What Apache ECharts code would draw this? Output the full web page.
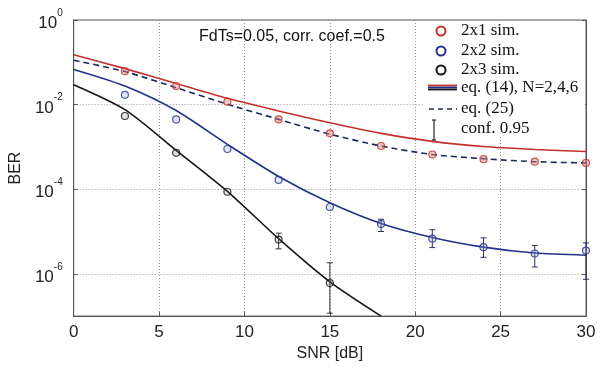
<!DOCTYPE html>
<html>
<head>
<meta charset="utf-8">
<script src="https://cdn.jsdelivr.net/npm/echarts@6/dist/echarts.min.js"></script>
<style>
  html, body { margin: 0; padding: 0; background: #fff; }
  #chart { width: 602px; height: 367px; }
</style>
</head>
<body>
<div id="chart"></div>
<script>
// SNR grid of the analytic curves and of the simulations
const snr = [0, 3, 6, 9, 12, 15, 18, 21, 24, 27, 30];
const simSnr = [3, 6, 9, 12, 15, 18, 21, 24, 27, 30];
const simSnr2x3 = [3, 6, 9, 12, 15];
const snrN6 = [0, 3, 6, 9, 12, 15, 18];

// eq. (14), N = 2, 4, 6
const eq14N2 = [0.151, 0.0708, 0.0316, 0.0141, 0.00708, 0.00372, 0.00209, 0.00135, 0.00102, 0.000871, 0.000776];
const eq14N4 = [0.0676, 0.0275, 0.00724, 0.00115, 0.000200, 4.79e-5, 1.55e-5, 7.24e-6, 4.27e-6, 3.09e-6, 2.75e-6];
const eq14N6 = [0.0295, 0.00759, 0.000832, 8.91e-5, 6.76e-6, 6.46e-7, 1.0e-7];
// eq. (25)
const eq25N2 = [0.112, 0.0603, 0.0251, 0.0102, 0.00447, 0.00200, 0.00105, 0.000661, 0.000525, 0.000447, 0.000417];

// simulations
const sim2x1 = [0.0617, 0.0275, 0.0117, 0.00447, 0.00209, 0.00105, 0.000661, 0.000513, 0.000447, 0.000417];
const sim2x2 = [0.0170, 0.00447, 0.000891, 0.000166, 3.80e-5, 1.51e-5, 6.76e-6, 4.27e-6, 3.02e-6, 3.55e-6];
const sim2x3 = [0.00537, 0.000724, 8.71e-5, 6.46e-6, 6.03e-7];

// 95% confidence intervals
const confSnr2x2 = [18, 21, 24, 27, 30];
const conf2x2Low = [1.0e-5, 4.17e-6, 2.45e-6, 1.45e-6, 7.41e-7];
const conf2x2High = [1.95e-5, 1.10e-5, 7.08e-6, 4.68e-6, 5.37e-6];
const confSnr2x3 = [12, 15];
const conf2x3Low = [3.89e-6, 1.17e-7];
const conf2x3High = [9.12e-6, 1.82e-6];

const RED = '#c4302b';
const BLUE = '#24318c';
const BLACK = '#151515';
const NAVY = '#1c2a5e';

const pair = (xs, ys) => xs.map((x, i) => [x, ys[i]]);
const triple = (xs, lo, hi) => xs.map((x, i) => [x, lo[i], hi[i]]);

const chart = echarts.init(document.getElementById('chart'));

function errorBars(color) {
  return function (params, api) {
    const top = api.coord([api.value(0), api.value(2)]);
    const bot = api.coord([api.value(0), api.value(1)]);
    const w = 3;
    const st = { stroke: color, lineWidth: 1 };
    return {
      type: 'group',
      children: [
        { type: 'line', shape: { x1: top[0], y1: top[1], x2: bot[0], y2: bot[1] }, style: st },
        { type: 'line', shape: { x1: top[0] - w, y1: top[1], x2: top[0] + w, y2: top[1] }, style: st },
        { type: 'line', shape: { x1: bot[0] - w, y1: bot[1], x2: bot[0] + w, y2: bot[1] }, style: st }
      ]
    };
  };
}

function simSeries(name, data, color, fill) {
  return {
    name, type: 'scatter', data,
    symbol: 'circle', symbolSize: 7, z: 5,
    itemStyle: { color: fill, borderColor: color, borderWidth: 1.2 }
  };
}

function curve(name, data, color, dashed) {
  return {
    name, type: 'line', data, smooth: 0.25, showSymbol: false,
    lineStyle: { color, width: 1.6, type: dashed ? [6, 4] : 'solid' }, z: 3
  };
}

const legendFont = '17px "Liberation Serif", serif';
const legendX = 461;
const legendRows = [31, 51, 70, 88, 109, 129];

const option = {
  backgroundColor: '#fff',
  animation: false,
  grid: {
    left: 69, right: 16, top: 20, bottom: 47,
    show: true, borderColor: '#555', borderWidth: 1
  },
  xAxis: {
    type: 'value', min: 0, max: 30, interval: 5,
    name: 'SNR [dB]', nameLocation: 'middle', nameGap: 24,
    nameTextStyle: { fontFamily: 'Liberation Sans', fontSize: 16, color: '#222' },
    axisLine: { lineStyle: { color: '#555' } },
    axisTick: { inside: true, length: 4, lineStyle: { color: '#555' } },
    axisLabel: { fontFamily: 'Liberation Sans', fontSize: 17, color: '#222', margin: 8 },
    splitLine: { lineStyle: { color: '#999', type: [1, 2] } }
  },
  yAxis: [{
    type: 'log', logBase: 100, min: 1e-7, max: 1,
    name: 'BER', nameLocation: 'middle', nameGap: 31, nameRotate: 90,
    nameTextStyle: { fontFamily: 'Liberation Sans', fontSize: 16, color: '#222' },
    axisLine: { lineStyle: { color: '#555' } },
    axisTick: { inside: true, length: 4, lineStyle: { color: '#555' } },
    axisLabel: {
      margin: 11, showMinLabel: false,
      formatter: v => '{b|10}{e|' + Math.round(Math.log10(v)) + '}',
      rich: {
        b: { fontFamily: 'Liberation Sans', fontSize: 17, color: '#222', lineHeight: 24, verticalAlign: 'bottom' },
        e: { fontFamily: 'Liberation Sans', fontSize: 10, color: '#222', lineHeight: 12, verticalAlign: 'top' }
      }
    },
    splitLine: { lineStyle: { color: '#999', type: [1, 2] } }
  }, {
    type: 'log', logBase: 100, min: 1e-7, max: 1, position: 'right',
    axisLine: { lineStyle: { color: '#555' } },
    axisTick: { inside: true, length: 4, lineStyle: { color: '#555' } },
    axisLabel: { show: false },
    splitLine: { show: false }
  }],
  series: [
    curve('eq14 N=2', pair(snr, eq14N2), RED, false),
    curve('eq14 N=4', pair(snr, eq14N4), BLUE, false),
    curve('eq14 N=6', pair(snrN6, eq14N6), BLACK, false),
    curve('eq25 N=2', pair(snr, eq25N2), NAVY, true),
    {
      type: 'custom', name: 'conf 2x2', renderItem: errorBars('#2a3060'),
      data: triple(confSnr2x2, conf2x2Low, conf2x2High), encode: { x: 0, y: [1, 2] }, z: 4
    },
    {
      type: 'custom', name: 'conf 2x3', renderItem: errorBars('#333'),
      data: triple(confSnr2x3, conf2x3Low, conf2x3High), encode: { x: 0, y: [1, 2] }, z: 4
    },
    simSeries('2x1 sim.', pair(simSnr, sim2x1), RED, 'rgba(214,130,130,0.55)'),
    simSeries('2x2 sim.', pair(simSnr, sim2x2), BLUE, 'rgba(150,160,215,0.35)'),
    simSeries('2x3 sim.', pair(simSnr2x3, sim2x3), BLACK, 'rgba(120,120,120,0.25)')
  ],
  graphic: [
    {
      type: 'text', left: 199, top: 29, z: 20,
      style: { text: 'FdTs=0.05, corr. coef.=0.5', font: '16px "Liberation Sans", sans-serif', fill: '#111' }
    },
    // legend box (no border, hides the grid behind it)
    { type: 'rect', shape: { x: 424, y: 21, width: 161, height: 116 }, style: { fill: '#fff' }, z: 15 },
    { type: 'circle', shape: { cx: 441, cy: legendRows[0], r: 4.5 }, style: { fill: 'none', stroke: RED, lineWidth: 2 }, z: 20 },
    { type: 'circle', shape: { cx: 441, cy: legendRows[1], r: 4.5 }, style: { fill: 'none', stroke: BLUE, lineWidth: 2 }, z: 20 },
    { type: 'circle', shape: { cx: 441, cy: legendRows[2], r: 4.5 }, style: { fill: 'none', stroke: BLACK, lineWidth: 2 }, z: 20 },
    { type: 'line', shape: { x1: 428, y1: legendRows[3] - 2.5, x2: 457, y2: legendRows[3] - 2.5 }, style: { stroke: RED, lineWidth: 1.8 }, z: 20 },
    { type: 'line', shape: { x1: 428, y1: legendRows[3] - 0.5, x2: 457, y2: legendRows[3] - 0.5 }, style: { stroke: BLUE, lineWidth: 1.8 }, z: 20 },
    { type: 'line', shape: { x1: 428, y1: legendRows[3] + 1.5, x2: 457, y2: legendRows[3] + 1.5 }, style: { stroke: BLACK, lineWidth: 1.8 }, z: 20 },
    { type: 'line', shape: { x1: 429, y1: legendRows[4], x2: 457, y2: legendRows[4] }, style: { stroke: NAVY, lineWidth: 1.6, lineDash: [5, 4] }, z: 20 },
    { type: 'line', shape: { x1: 434, y1: 120, x2: 434, y2: 140 }, style: { stroke: '#222', lineWidth: 1.2 }, z: 20 },
    { type: 'line', shape: { x1: 432, y1: 120, x2: 436, y2: 120 }, style: { stroke: '#222', lineWidth: 1.2 }, z: 20 },
    { type: 'line', shape: { x1: 432, y1: 140, x2: 436, y2: 140 }, style: { stroke: '#222', lineWidth: 1.2 }, z: 20 }
  ].concat(['2x1 sim.', '2x2 sim.', '2x3 sim.', 'eq. (14), N=2,4,6', 'eq. (25)', 'conf. 0.95'].map((t, i) => ({
    type: 'text', x: legendX, y: legendRows[i], z: 20,
    style: { text: t, font: legendFont, fill: '#111', verticalAlign: 'middle' }
  })))
};

chart.setOption(option);
</script>
</body>
</html>
